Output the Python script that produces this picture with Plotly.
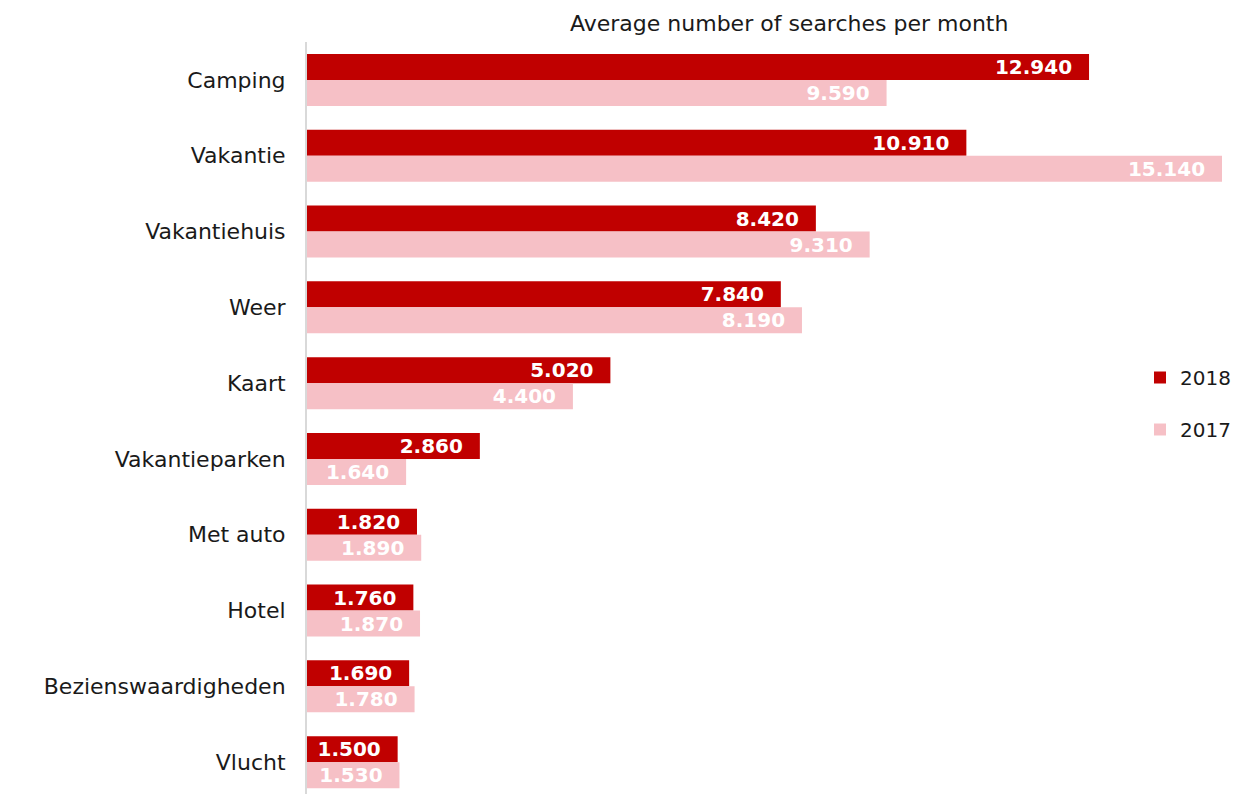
import plotly.graph_objects as go

categories = ["Camping", "Vakantie", "Vakantiehuis", "Weer", "Kaart",
              "Vakantieparken", "Met auto", "Hotel", "Bezienswaardigheden", "Vlucht"]
searches_2018 = [12940, 10910, 8420, 7840, 5020, 2860, 1820, 1760, 1690, 1500]
searches_2017 = [9590, 15140, 9310, 8190, 4400, 1640, 1890, 1870, 1780, 1530]

FONT = "DejaVu Sans"
W, H = 1235, 794
L, R, T, B = 307, 13, 42, 0
plot_w = W - L - R
plot_h = H - T - B

fig = go.Figure()
for name, vals, color, grp in [("2018", searches_2018, "#C00000", "a"),
                               ("2017", searches_2017, "#F6C0C6", "b")]:
    fig.add_trace(go.Bar(
        y=categories, x=vals, name=name, orientation="h",
        marker=dict(color=color, line=dict(width=0)),
        texttemplate="%{x:,}\u00a0\u00a0", textposition="inside", insidetextanchor="end",
        constraintext="none",
        textfont=dict(family=FONT, size=20, color="white", weight="bold"),
        legendgroup=grp, hoverinfo="x+name",
    ))

fig.update_layout(
    width=W, height=H,
    margin=dict(l=L, r=R, t=T, b=B, pad=0, autoexpand=False),
    paper_bgcolor="white", plot_bgcolor="white",
    barmode="group", bargap=0.314, bargroupgap=0,
    separators=",.",
    uniformtext=dict(minsize=20, mode="show"),
    font=dict(family=FONT, size=22, color="#1a1a1a"),
    xaxis=dict(range=[0, max(searches_2017 + searches_2018)], visible=False,
               showgrid=False, zeroline=False, fixedrange=True),
    yaxis=dict(range=[9.42, -0.5], showline=True, linecolor="#D9D9D9", linewidth=2,
               showgrid=False, zeroline=False, ticks="", ticklabelstandoff=15,
               tickfont=dict(family=FONT, size=22, color="#1a1a1a")),
    legend=dict(x=(1140 - L) / plot_w, y=1 - (358 - T) / plot_h,
                xanchor="left", yanchor="top", bgcolor="rgba(0,0,0,0)",
                font=dict(family=FONT, size=20, color="#1a1a1a"),
                traceorder="grouped", tracegroupgap=23, itemwidth=30),
    annotations=[dict(text="Average number of searches per month",
                      x=(789 - L) / plot_w, y=1 + (T - 24) / plot_h,
                      xref="paper", yref="paper", xanchor="center", yanchor="middle",
                      showarrow=False, font=dict(family=FONT, size=22, color="#1a1a1a"))],
)

fig.write_html("out.html")
